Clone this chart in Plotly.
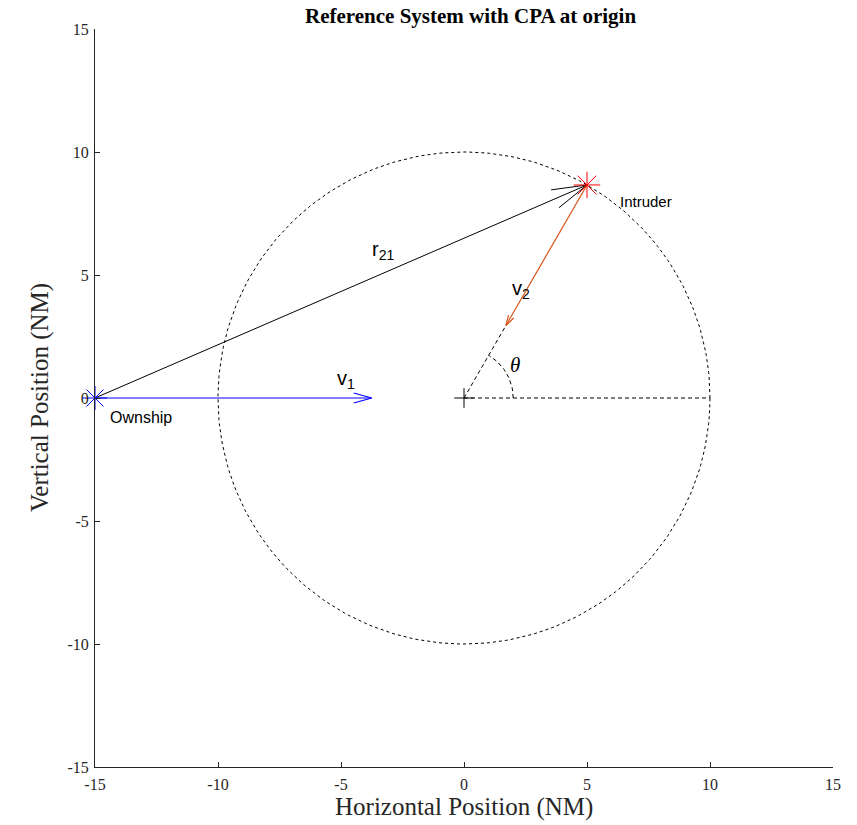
import numpy as np
import plotly.graph_objects as go

# ---- data ----
ownship = [-15.0, 0.0]
intruder = [5.0, 8.66]
cpa = [0.0, 0.0]
v1 = [11.25, 0.0]
v2 = [-3.3, -5.72]
radius = 10.0
theta_deg = 60.0
arc_radius = 2.0
tick_vals = [-15, -10, -5, 0, 5, 10, 15]
tick_text = ["-15", "-10", "-5", "0", "5", "10", "15"]

SERIF = "Liberation Serif"
SANS = "Liberation Sans"
AX = "#262626"


def arrow(x0, y0, dx, dy):
    L = np.hypot(dx, dy)
    ux, uy = dx / L, dy / L
    px, py = -uy, ux
    hl = 0.065 * L
    hw = 0.28 * hl
    x1, y1 = x0 + dx, y0 + dy
    bx, by = x1 - hl * ux, y1 - hl * uy
    xs = [x0, x1, None, bx + hw * px, x1, bx - hw * px]
    ys = [y0, y1, None, by + hw * py, y1, by - hw * py]
    return xs, ys


fig = go.Figure()

# circle (dotted)
t = np.linspace(0, 2 * np.pi, 361)
fig.add_trace(go.Scatter(x=radius * np.cos(t), y=radius * np.sin(t), mode="lines",
                         line=dict(color="black", width=1, dash="3px,3px"),
                         hoverinfo="skip", showlegend=False))

# horizontal dashed reference line
fig.add_trace(go.Scatter(x=[cpa[0], cpa[0] + radius], y=[cpa[1], cpa[1]], mode="lines",
                         line=dict(color="black", width=1, dash="4px,3px"),
                         showlegend=False))

# dashed line from CPA to v2 tip
v2tip = [intruder[0] + v2[0], intruder[1] + v2[1]]
fig.add_trace(go.Scatter(x=[cpa[0], v2tip[0]], y=[cpa[1], v2tip[1]], mode="lines",
                         line=dict(color="black", width=1, dash="4px,3px"),
                         showlegend=False))

# theta arc
a = np.linspace(0, np.deg2rad(theta_deg), 40)
fig.add_trace(go.Scatter(x=arc_radius * np.cos(a), y=arc_radius * np.sin(a), mode="lines",
                         line=dict(color="black", width=1, dash="4px,3px"),
                         showlegend=False))

# r21 arrow
xs, ys = arrow(ownship[0], ownship[1], intruder[0] - ownship[0], intruder[1] - ownship[1])
fig.add_trace(go.Scatter(x=xs, y=ys, mode="lines", line=dict(color="black", width=1),
                         showlegend=False, cliponaxis=False))
# v1 arrow
xs, ys = arrow(ownship[0], ownship[1], v1[0], v1[1])
fig.add_trace(go.Scatter(x=xs, y=ys, mode="lines", line=dict(color="#0000FF", width=1.2),
                         showlegend=False, cliponaxis=False))
# v2 arrow
xs, ys = arrow(intruder[0], intruder[1], v2[0], v2[1])
fig.add_trace(go.Scatter(x=xs, y=ys, mode="lines", line=dict(color="#D95319", width=1.2),
                         showlegend=False))

# markers
fig.add_trace(go.Scatter(x=[ownship[0]], y=[ownship[1]], mode="markers", cliponaxis=False,
                         marker=dict(symbol="asterisk-open", size=20, color="#0000FF",
                                     line=dict(color="#0000FF", width=1)),
                         showlegend=False))
fig.add_trace(go.Scatter(x=[intruder[0]], y=[intruder[1]], mode="markers", cliponaxis=False,
                         marker=dict(symbol="asterisk-open", size=22, color="#FF0000",
                                     line=dict(color="#FF0000", width=1)),
                         showlegend=False))
fig.add_trace(go.Scatter(x=[cpa[0]], y=[cpa[1]], mode="markers", cliponaxis=False,
                         marker=dict(symbol="cross-thin-open", size=14, color="black",
                                     line=dict(color="black", width=1)),
                         showlegend=False))

annotations = [
    dict(x=-3.3, y=6.0, text="r<sub>21</sub>", font=dict(family=SANS, size=20, color="black")),
    dict(x=2.3, y=4.4, text="v<sub>2</sub>", font=dict(family=SANS, size=20, color="black")),
    dict(x=-4.8, y=0.75, text="v<sub>1</sub>", font=dict(family=SANS, size=20, color="black")),
    dict(x=-13.15, y=-0.8, text="Ownship", font=dict(family=SANS, size=16, color="black")),
    dict(x=7.4, y=8.0, text="Intruder", font=dict(family=SANS, size=15, color="black")),
    dict(x=2.07, y=1.35, text="<i>θ</i>", font=dict(family=SERIF, size=21, color="black")),
]
for an in annotations:
    an.update(xref="x", yref="y", showarrow=False, xanchor="center", yanchor="middle")

H = 738.0
annotations += [
    dict(xref="paper", yref="paper", x=(470 - 95) / H, y=1 + (29 - 16) / H,
         text="<b>Reference System with CPA at origin</b>",
         showarrow=False, xanchor="center", yanchor="middle", font=dict(family=SERIF, size=21, color="black")),
    dict(xref="paper", yref="paper", x=0.5, y=-(807 - 767) / H, text="Horizontal Position (NM)",
         showarrow=False, xanchor="center", yanchor="middle", font=dict(family=SERIF, size=25, color=AX)),
    dict(xref="paper", yref="paper", x=(40 - 95) / H, y=0.5, text="Vertical Position (NM)", textangle=-90,
         showarrow=False, xanchor="center", yanchor="middle", font=dict(family=SERIF, size=25, color=AX)),
]

axis_common = dict(range=[-15, 15], tickmode="array", tickvals=tick_vals, ticktext=tick_text,
                   showgrid=False, zeroline=False, showline=True, linecolor=AX, linewidth=1,
                   ticks="inside", ticklen=5, tickcolor=AX, tickwidth=1,
                   tickfont=dict(family=SERIF, size=16, color=AX), mirror=False)

fig.update_layout(
    width=857, height=825,
    margin=dict(l=95, r=24, t=29, b=58, pad=0),
    plot_bgcolor="white", paper_bgcolor="white",
    xaxis=dict(axis_common, ticklabelstandoff=3),
    yaxis=dict(axis_common, ticklabelstandoff=2),
    annotations=annotations,
    showlegend=False,
)

fig.write_html("out.html")
